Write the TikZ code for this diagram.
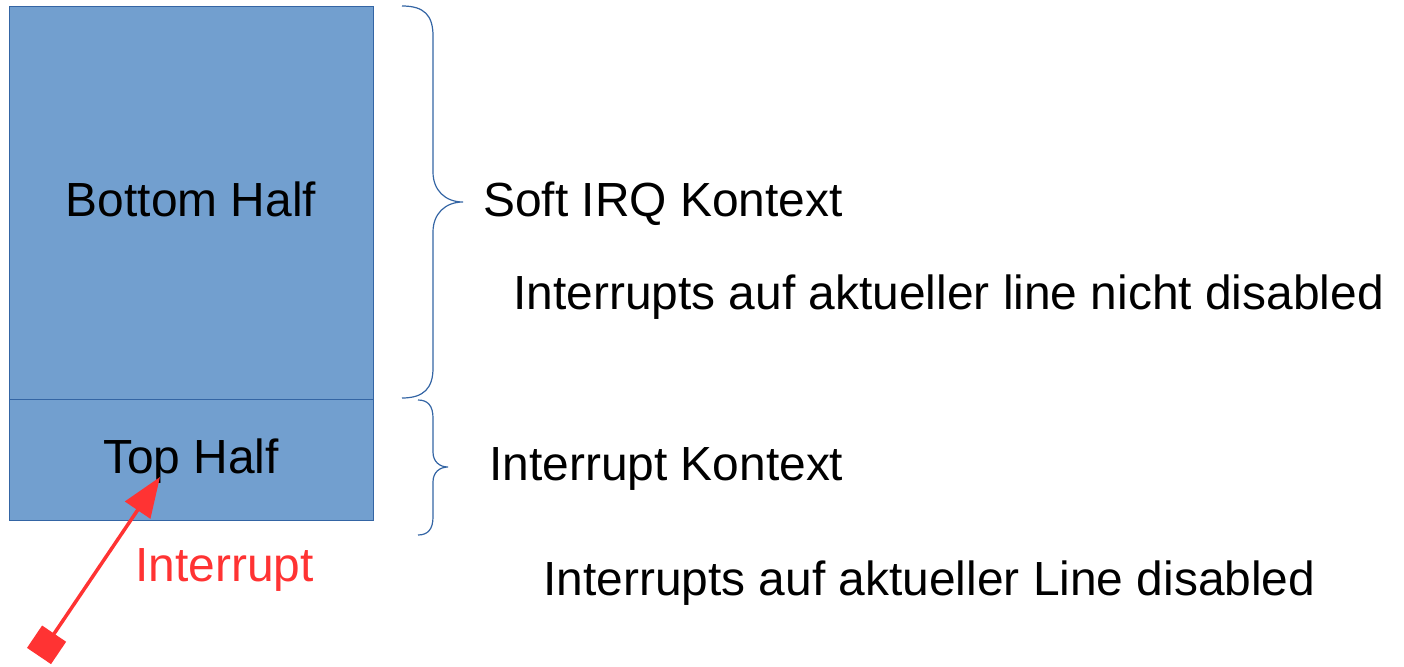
\documentclass[tikz,border=0pt]{standalone}
\usepackage{fontspec}
\setmainfont{Liberation Sans}
\usetikzlibrary{arrows.meta}
\definecolor{boxfill}{RGB}{114,159,207}
\definecolor{boxline}{RGB}{52,101,164}
\definecolor{irqred}{RGB}{255,51,51}
\tikzset{
  half/.style={draw=boxline, fill=boxfill, line width=1.3pt, anchor=north west,
               minimum width=364pt, inner sep=0pt, font=\fontsize{47.9}{50}\selectfont},
  label/.style={anchor=base west, inner sep=0pt, font=\fontsize{47.9}{50}\selectfont},
  brace/.style={draw=boxline, line width=1.2pt},
  irq/.style={draw=irqred, line width=3.5pt,
              {Square[length=27pt,width=29pt]}-{Triangle[length=40pt,width=30pt]}}
}
\begin{document}
\begin{tikzpicture}[x=1pt,y=-1pt]
\useasboundingbox (0,0) rectangle (1404,666);

% stacked halves of the interrupt handler
\node[half, minimum height=393pt] (bottom) at (9,6) {};
\node[half, minimum height=121pt] (top) at (9,399) {};
\node[label, anchor=base] (bottomtxt) at (191,216) {Bottom Half};
\node[label, anchor=base] (toptxt) at (191,473) {Top Half};

% braces grouping the contexts
\path[brace] (402,6) .. controls (424,6) and (433,15) .. (433,36)
  -- (433,172) .. controls (433,190) and (445,202) .. (463,202)
  .. controls (445,202) and (433,214) .. (433,232)
  -- (433,368) .. controls (433,388) and (424,398) .. (402,398);
\path[brace] (418,400) .. controls (428,400) and (433,406) .. (433,418)
  -- (433,452) .. controls (433,462) and (440,467) .. (448,467)
  .. controls (440,467) and (433,472) .. (433,482)
  -- (433,517) .. controls (433,529) and (428,535) .. (418,535);

% context descriptions
\node[label] (soft) at (483,216) {Soft IRQ Kontext};
\node[label] (softnote) at (513,309) {Interrupts auf aktueller line nicht disabled};
\node[label] (hard) at (489,480) {Interrupt Kontext};
\node[label] (hardnote) at (543,595) {Interrupts auf aktueller Line disabled};

% incoming interrupt
\coordinate (src) at (39,656);
\coordinate (hit) at (160,477);
\draw[irq] (src) -- (hit);
\node[label, text=irqred] (irqtxt) at (135,581) {Interrupt};
\end{tikzpicture}
\end{document}
